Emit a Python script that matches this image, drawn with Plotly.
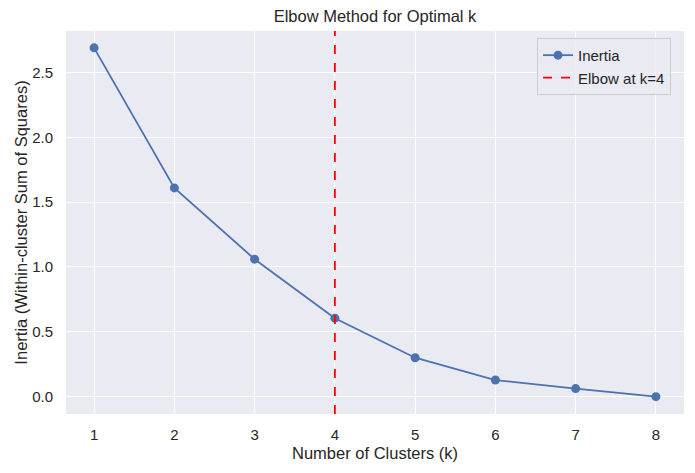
import plotly.graph_objects as go

k_values = [1, 2, 3, 4, 5, 6, 7, 8]
inertia = [2.69, 1.61, 1.06, 0.605, 0.30, 0.128, 0.062, 0.0]
elbow_k = 4

BLUE = "#4C72B0"
FONT = "Liberation Sans, Arial, sans-serif"
W, H = 695, 473

fig = go.Figure()

fig.add_trace(
    go.Scatter(
        x=k_values,
        y=inertia,
        mode="lines+markers",
        name="Inertia",
        line=dict(color=BLUE, width=1.8),
        marker=dict(color=BLUE, size=9),
    )
)

fig.add_shape(
    type="line",
    x0=elbow_k,
    x1=elbow_k,
    y0=0,
    y1=1,
    xref="x",
    yref="y domain",
    line=dict(color="red", width=1.8, dash="dash"),
    name=f"Elbow at k={elbow_k}",
    showlegend=True,
)

fig.update_layout(
    width=W,
    height=H,
    margin=dict(l=66, r=11, t=31, b=59, autoexpand=False),
    paper_bgcolor="white",
    plot_bgcolor="#EAEAF2",
    font=dict(family=FONT, size=15, color="#262626"),
    title=dict(
        text="Elbow Method for Optimal k",
        x=0.5,
        xref="paper",
        xanchor="center",
        y=1 - 16 / H,
        yanchor="middle",
        font=dict(size=16.5, color="#262626"),
    ),
    legend=dict(
        x=0.979,
        y=0.982,
        xanchor="right",
        yanchor="top",
        bgcolor="rgba(234,234,242,0.8)",
        bordercolor="#CCCCCC",
        borderwidth=1,
        font=dict(size=15),
        tracegroupgap=0,
    ),
)

fig.update_xaxes(
    title=dict(text="Number of Clusters (k)", font=dict(size=16.5), standoff=5),
    range=[0.65, 8.35],
    tickvals=k_values,
    showgrid=True,
    gridcolor="white",
    gridwidth=1,
    zeroline=False,
    showline=False,
    ticks="",
    ticklabelstandoff=10,
    automargin=False,
)

fig.update_yaxes(
    title=dict(text="Inertia (Within-cluster Sum of Squares)", font=dict(size=16.5), standoff=0),
    range=[-0.134, 2.82],
    tickvals=[0.0, 0.5, 1.0, 1.5, 2.0, 2.5],
    tickformat=".1f",
    showgrid=True,
    gridcolor="white",
    gridwidth=1,
    zeroline=False,
    showline=False,
    ticks="",
    ticklabelstandoff=12,
    automargin=False,
)

# the page body has a default 8px margin; drop it so the figure fills the window
fig.write_html(
    "out.html",
    config={"displayModeBar": False},
    post_script="document.body.style.margin = '0';",
)
